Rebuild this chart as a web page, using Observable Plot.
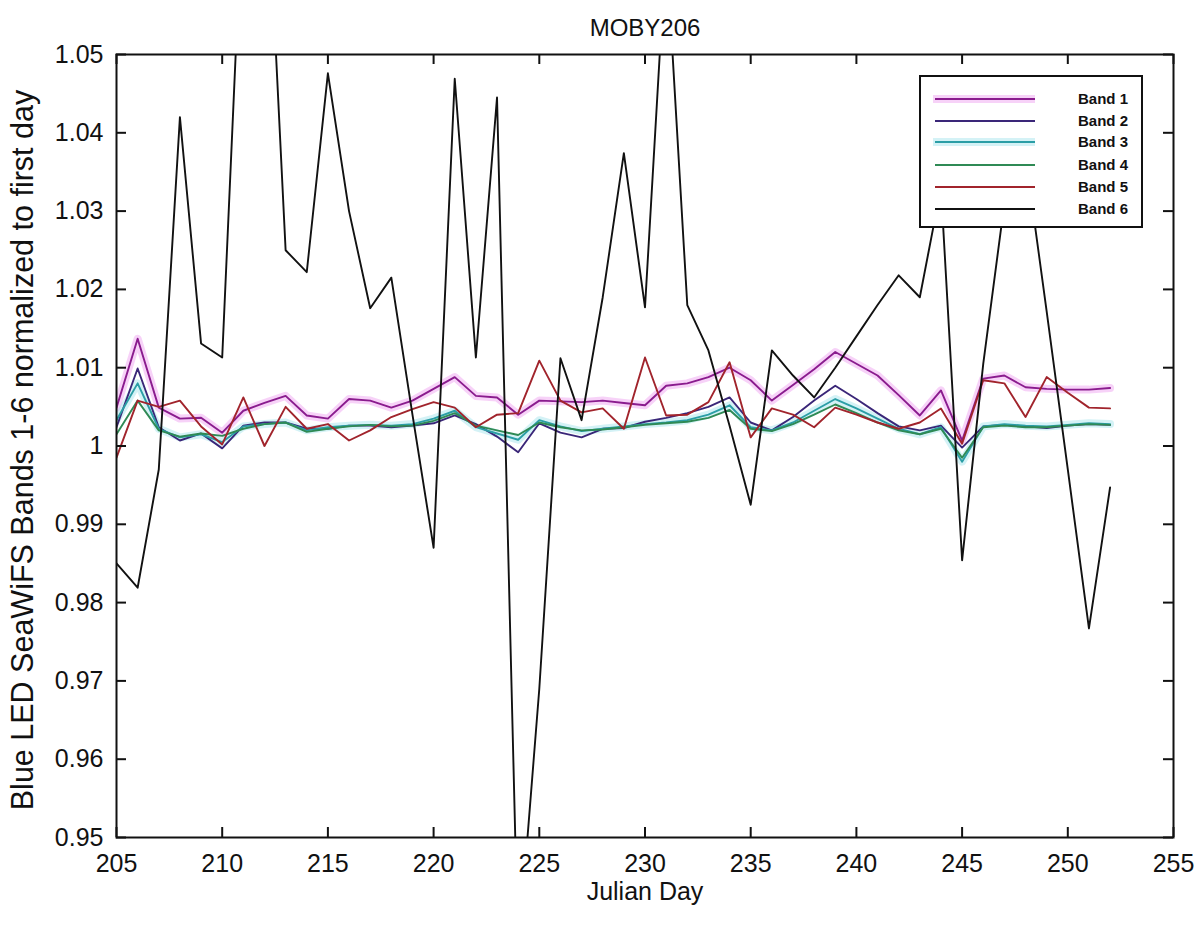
<!DOCTYPE html>
<html>
<head>
<meta charset="utf-8">
<script src="https://cdn.jsdelivr.net/npm/d3@7"></script>
<script src="https://cdn.jsdelivr.net/npm/@observablehq/plot@0.6"></script>
<style>
  html, body { margin: 0; padding: 0; background: #fff; }
  #wrap { position: relative; width: 1204px; height: 928px; font-family: "Liberation Sans", Arial, sans-serif; color: #111; }
  #wrap svg { position: absolute; left: 0; top: 0; }
  .lbl { position: absolute; white-space: nowrap; line-height: 1; }
  #legend { position: absolute; background: #fff; border: 2px solid #111; box-sizing: border-box; }
  .lrow { position: absolute; left: 0; width: 100%; height: 20px; }
  .lrow svg { position: absolute; left: 0; top: 0; }
  .lrow span { position: absolute; font-weight: bold; font-size: 15px; }
</style>
</head>
<body>
<div id="wrap"></div>
<script>
const days = [205,206,207,208,209,210,211,212,213,214,215,216,217,218,219,220,221,222,223,224,225,226,227,228,229,230,231,232,233,234,235,236,237,238,239,240,241,242,243,244,245,246,247,248,249,250,251,252];

const band1 = [1.0049,1.0137,1.0049,1.0035,1.0036,1.0017,1.0045,1.0055,1.0064,1.0039,1.0035,1.0060,1.0058,1.0049,1.0058,1.0073,1.0088,1.0064,1.0062,1.0040,1.0058,1.0057,1.0056,1.0058,1.0055,1.0052,1.0077,1.0080,1.0088,1.0100,1.0084,1.0058,1.0078,1.0098,1.0120,1.0105,1.0090,1.0065,1.0039,1.0071,1.0007,1.0086,1.0090,1.0075,1.0073,1.0072,1.0072,1.0074];
const band2 = [1.0024,1.0099,1.0024,1.0007,1.0016,0.9997,1.0026,1.0030,1.0030,1.0022,1.0022,1.0026,1.0026,1.0024,1.0026,1.0029,1.0039,1.0028,1.0012,0.9992,1.0029,1.0017,1.0011,1.0022,1.0023,1.0031,1.0036,1.0042,1.0050,1.0062,1.0030,1.0020,1.0037,1.0058,1.0077,1.0060,1.0042,1.0025,1.0020,1.0026,0.9998,1.0025,1.0027,1.0025,1.0023,1.0026,1.0028,1.0027];
const band3 = [1.0033,1.0080,1.0022,1.0011,1.0015,1.0005,1.0025,1.0028,1.0030,1.0020,1.0024,1.0026,1.0027,1.0026,1.0028,1.0035,1.0045,1.0024,1.0016,1.0008,1.0033,1.0025,1.0019,1.0022,1.0025,1.0028,1.0030,1.0033,1.0040,1.0052,1.0024,1.0020,1.0030,1.0045,1.0060,1.0048,1.0035,1.0022,1.0015,1.0024,0.9980,1.0025,1.0028,1.0026,1.0025,1.0027,1.0029,1.0028];
const band4 = [1.0015,1.0058,1.0020,1.0012,1.0016,1.0013,1.0022,1.0028,1.0030,1.0018,1.0022,1.0025,1.0027,1.0025,1.0026,1.0032,1.0042,1.0026,1.0020,1.0014,1.0030,1.0024,1.0020,1.0021,1.0024,1.0027,1.0029,1.0031,1.0036,1.0046,1.0022,1.0019,1.0028,1.0040,1.0053,1.0042,1.0030,1.0020,1.0015,1.0022,0.9985,1.0024,1.0026,1.0024,1.0024,1.0026,1.0028,1.0027];
const band5 = [0.9985,1.0058,1.0050,1.0058,1.0025,1.0002,1.0062,1.0000,1.0050,1.0022,1.0028,1.0007,1.0020,1.0037,1.0047,1.0056,1.0049,1.0024,1.0040,1.0042,1.0109,1.0058,1.0043,1.0048,1.0022,1.0113,1.0039,1.0040,1.0056,1.0107,1.0011,1.0048,1.0040,1.0024,1.0049,1.0040,1.0030,1.0022,1.0030,1.0048,1.0003,1.0084,1.0080,1.0037,1.0088,1.0068,1.0049,1.0048];
const band6 = [0.9850,0.9819,0.9970,1.0420,1.0131,1.0113,1.0720,1.0800,1.0250,1.0222,1.0476,1.0300,1.0176,1.0215,1.0040,0.9870,1.0469,1.0113,1.0445,0.9350,0.9690,1.0112,1.0033,1.0190,1.0374,1.0177,1.0640,1.0180,1.0122,1.0026,0.9925,1.0122,1.0090,1.0062,1.0100,1.0140,1.0180,1.0218,1.0190,1.0330,0.9854,1.0105,1.0310,1.0370,1.0172,0.9970,0.9767,0.9947];

const bandNames = ["Band 1","Band 2","Band 3","Band 4","Band 5","Band 6"];
const bandColors = ["#8a1c8e","#3a2678","#2b9ea6","#2f8a55","#a1242c","#111111"];
const haloColors = {"Band 1": "#ee9cef", "Band 3": "#9fe2ec"};
const xTicks = [205,210,215,220,225,230,235,240,245,250,255];
const yTicks = [0.95,0.96,0.97,0.98,0.99,1.00,1.01,1.02,1.03,1.04,1.05];
const yTickLabels = ["0.95","0.96","0.97","0.98","0.99","1","1.01","1.02","1.03","1.04","1.05"];
const titleText = "MOBY206";
const xLabel = "Julian Day";
const yLabel = "Blue LED SeaWiFS Bands 1-6 normalized to first day";

const series = [band1, band2, band3, band4, band5, band6];
const rows = [];
series.forEach((vals, i) => vals.forEach((v, j) => rows.push({day: days[j], value: v, band: bandNames[i]})));
const haloRows = rows.filter(r => haloColors[r.band]);

const W = 1204, H = 928, mL = 116, mR = 31, mT = 54, mB = 91;
const plotW = W - mL - mR, plotH = H - mT - mB, tick = 10;

const chart = Plot.plot({
  width: W, height: H,
  marginLeft: mL, marginRight: mR, marginTop: mT, marginBottom: mB,
  style: {fontFamily: "Liberation Sans, Arial, sans-serif", fontSize: "25px", background: "transparent", color: "#111"},
  x: {domain: [205, 255], label: null},
  y: {domain: [0.95, 1.05], label: null},
  color: {domain: bandNames, range: bandColors},
  marks: [
    Plot.line(haloRows, {x: "day", y: "value", z: "band", stroke: d => haloColors[d.band], strokeWidth: 8, strokeOpacity: 0.45, clip: true}),
    Plot.line(rows, {x: "day", y: "value", z: "band", stroke: "band", strokeWidth: 1.9, clip: true}),
    Plot.frame({stroke: "#111", strokeWidth: 2}),
    Plot.tickY(yTicks, {y: d => d, insetRight: plotW - tick, stroke: "#111", strokeWidth: 2}),
    Plot.tickY(yTicks, {y: d => d, insetLeft: plotW - tick, stroke: "#111", strokeWidth: 2}),
    Plot.tickX(xTicks, {x: d => d, insetTop: plotH - tick, stroke: "#111", strokeWidth: 2}),
    Plot.tickX(xTicks, {x: d => d, insetBottom: plotH - tick, stroke: "#111", strokeWidth: 2}),
    Plot.axisX({ticks: xTicks, tickSize: 0, tickPadding: 17, tickFormat: d => String(d), fontSize: 25, label: null}),
    Plot.axisY({ticks: yTicks, tickSize: 0, tickPadding: 13, tickFormat: d => yTickLabels[yTicks.indexOf(d)], fontSize: 25, label: null})
  ]
});

const wrap = document.getElementById("wrap");
wrap.appendChild(chart);

function addLabel(text, css) {
  const d = document.createElement("div");
  d.className = "lbl";
  d.textContent = text;
  Object.assign(d.style, css);
  wrap.appendChild(d);
  return d;
}
addLabel(titleText, {left: "645px", top: "28px", fontSize: "24px", transform: "translate(-50%,-50%)"});
addLabel(xLabel, {left: "645px", top: "891px", fontSize: "25px", transform: "translate(-50%,-50%)"});
addLabel(yLabel, {left: "22px", top: "450px", fontSize: "30.5px", transform: "translate(-50%,-50%) rotate(-90deg)"});

// legend
const lg = document.createElement("div");
lg.id = "legend";
Object.assign(lg.style, {left: "919px", top: "75px", width: "224px", height: "153px"});
const rowTops = [12, 34, 55, 78, 100, 122];
bandNames.forEach((name, i) => {
  const r = document.createElement("div");
  r.className = "lrow";
  r.style.top = rowTops[i] + "px";
  const halo = haloColors[name];
  r.innerHTML =
    `<svg width="130" height="20">` +
    (halo ? `<line x1="12" x2="114" y1="10" y2="10" stroke="${halo}" stroke-width="8" stroke-opacity="0.45"/>` : "") +
    `<line x1="14" x2="114" y1="10" y2="10" stroke="${bandColors[i]}" stroke-width="2.2"/></svg>` +
    `<span style="left:157px; top:1px">${name}</span>`;
  lg.appendChild(r);
});
wrap.appendChild(lg);
</script>
</body>
</html>
